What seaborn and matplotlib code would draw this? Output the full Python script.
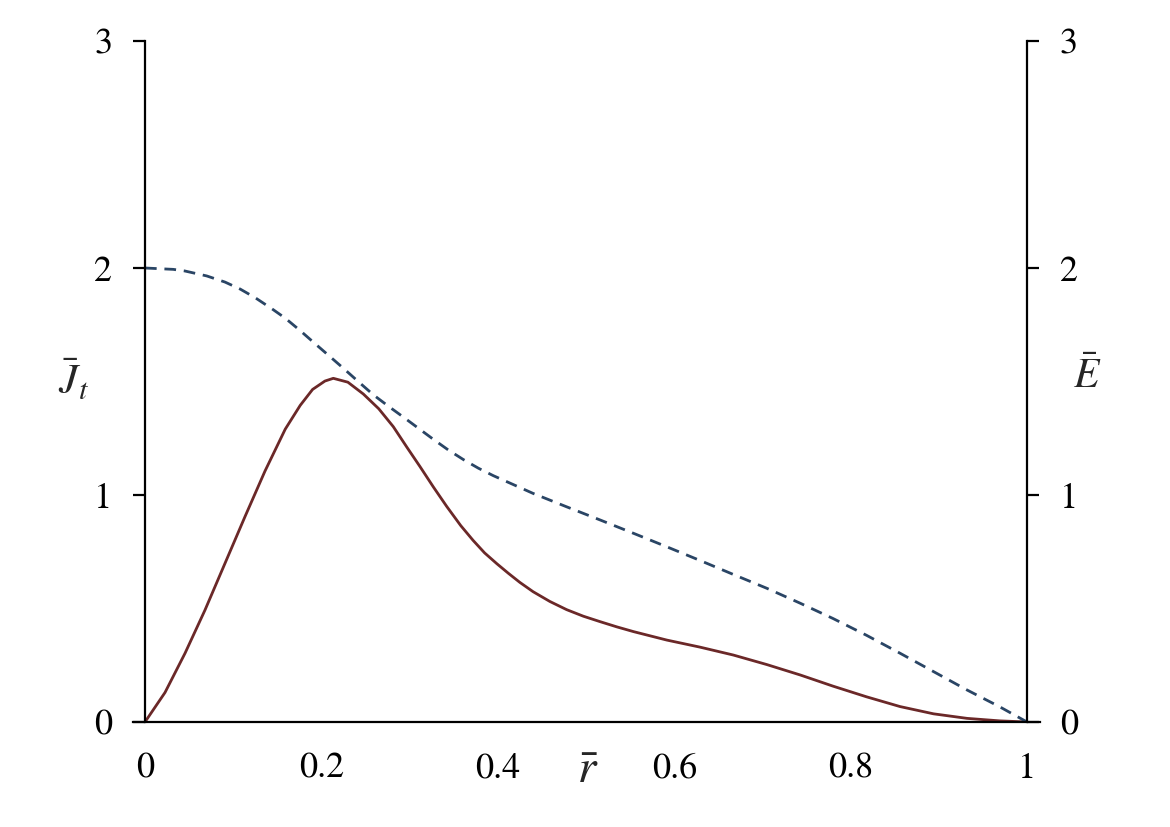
import numpy as np
import pandas as pd
import matplotlib
matplotlib.use("Agg")
import matplotlib.pyplot as plt
import seaborn as sns

# current density J_t (solid curve)
rJ_vals = [0.0, 0.0227, 0.0454, 0.068, 0.0907, 0.1134, 0.136, 0.159, 0.176,
           0.19, 0.204, 0.2135, 0.23, 0.2475, 0.265, 0.2815, 0.297, 0.3118, 0.327, 0.342,
           0.358, 0.372, 0.385, 0.399, 0.412, 0.425, 0.44, 0.459, 0.478, 0.497, 0.516,
           0.535, 0.554, 0.5915, 0.629, 0.667, 0.705, 0.743, 0.78, 0.818, 0.856, 0.894,
           0.932, 0.969, 1.0]
J_vals = [0.0, 0.13, 0.303, 0.493, 0.699, 0.905, 1.105, 1.29, 1.395,
          1.465, 1.502, 1.514, 1.497, 1.445, 1.38, 1.301, 1.21, 1.125, 1.035, 0.95,
          0.865, 0.80, 0.745, 0.697, 0.655, 0.615, 0.574, 0.531, 0.495, 0.466, 0.442,
          0.419, 0.398, 0.361, 0.330, 0.295, 0.253, 0.207, 0.158, 0.111, 0.068, 0.036,
          0.016, 0.005, 0.0]

# electric field E (dashed curve)
rE_vals = [0.0, 0.032, 0.045, 0.07, 0.0907, 0.108, 0.125, 0.1455, 0.159, 0.176, 0.193,
           0.2117, 0.225, 0.242, 0.259, 0.276, 0.293, 0.31, 0.327, 0.344, 0.361, 0.378,
           0.395, 0.421, 0.44, 0.478, 0.516, 0.554, 0.5915, 0.629, 0.667, 0.705, 0.743,
           0.78, 0.818, 0.856, 0.894, 0.932, 0.969, 1.0]
E_vals = [2.0, 1.994, 1.987, 1.965, 1.938, 1.907, 1.869, 1.816, 1.779, 1.724, 1.666,
          1.603, 1.558, 1.499, 1.441, 1.391, 1.343, 1.294, 1.245, 1.198, 1.156, 1.118,
          1.085, 1.04, 1.007, 0.948, 0.890, 0.831, 0.772, 0.712, 0.650, 0.589, 0.523,
          0.456, 0.382, 0.303, 0.222, 0.141, 0.067, 0.0]

x_ticks = [0, 0.2, 0.4, 0.6, 0.8, 1]
x_tick_labels = ["0", "0.2", "0.4", "0.6", "0.8", "1"]
y_ticks = [0, 1, 2, 3]
y_tick_labels = ["0", "1", "2", "3"]

sns.set_style("white")
plt.rcParams['font.family'] = ['STIXGeneral', 'DejaVu Serif']
plt.rcParams['mathtext.fontset'] = 'stix'

dfJ = pd.DataFrame({"r": rJ_vals, "J": J_vals})
dfE = pd.DataFrame({"r": rE_vals, "E": E_vals})

fig = plt.figure(figsize=(11.7, 8.27), dpi=100)
ax = fig.add_axes([133/1170, 105/827, 907/1170, 681/827])

sns.lineplot(data=dfJ, x="r", y="J", ax=ax, color="#6b2828", linewidth=2.0, sort=False)
sns.lineplot(data=dfE, x="r", y="E", ax=ax, color="#2a4565", linewidth=2.0, sort=False,
             linestyle=(0, (4.2, 2.8)))

ax.set_xlim(-0.0136, 1.0147)
ax.set_ylim(0, 3)
ax.spines['top'].set_visible(False)
ax.spines['left'].set_position(('data', 0))
ax.spines['right'].set_position(('data', 1))
for s in ['left', 'right', 'bottom']:
    ax.spines[s].set_linewidth(1.6)
    ax.spines[s].set_color('black')

ax.set_xticks(x_ticks)
ax.set_xticklabels(x_tick_labels)
ax.set_yticks(y_ticks)
ax.set_yticklabels(y_tick_labels)
ax.tick_params(axis='y', which='both', left=True, right=True, labelleft=True, labelright=True,
               direction='out', length=8.5, width=1.6, labelsize=26, pad=15, colors='black')
ax.tick_params(axis='x', direction='out', length=8, width=1.6, labelsize=26, pad=14, colors='black')
ax.set_xlabel("")
ax.set_ylabel("")

fig.text(73/1170, 1 - 381/827, r"$\bar{J}_t$", fontsize=31, ha='center', va='center')
fig.text(1087/1170, 1 - 377/827, r"$\bar{E}$", fontsize=30, ha='center', va='center')
fig.text(588/1170, 1 - 772/827, r"$\bar{r}$", fontsize=34, ha='center', va='center')

fig.savefig("out.png", dpi=100)
